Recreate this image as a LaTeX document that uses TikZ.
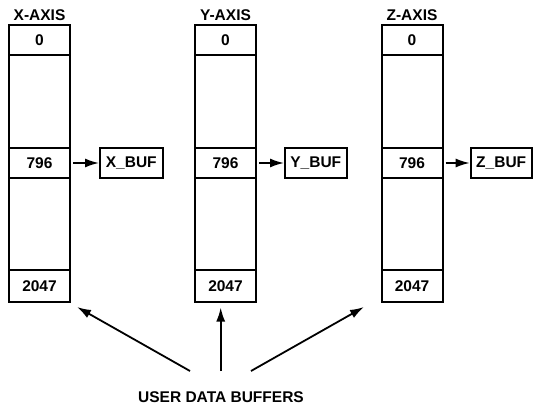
\documentclass[tikz,border=0pt]{standalone}
\usepackage{fontspec}
\setmainfont{Liberation Sans}
\usetikzlibrary{arrows.meta}
\begin{document}
\begin{tikzpicture}[x=1pt,y=-1pt,
  every node/.style={font=\fontsize{15.5}{17}\selectfont\bfseries, inner sep=0pt},
  colbox/.style={draw, line width=2pt, minimum width=61pt, minimum height=276.5pt},
  cellbox/.style={draw, line width=2pt, minimum width=61pt},
  bufbox/.style={draw, line width=2pt, minimum height=30pt},
  ptr/.style={line width=1.8pt, -{Latex[length=14pt,width=9pt]}},
  lbl/.style={}]
\useasboundingbox (0,0) rectangle (535,406);
% X column
\node[lbl] (xl) at (39.5,15) {X-AXIS};
\node[colbox] (xc) at (39.5,163.75) {};
\node[cellbox, minimum height=29.5pt] (x0) at (39.5,40.25) {0};
\node[cellbox, minimum height=30pt] (x7) at (39.5,163) {796};
\node[cellbox, minimum height=32pt] (x2) at (39.5,286) {2047};
\node[bufbox, minimum width=62.5pt] (xb) at (131.3,163) {X\_BUF};
\draw[ptr, shorten <=2pt] (x7) -- (xb);
% Y column
\node[lbl] (yl) at (225.5,15) {Y-AXIS};
\node[colbox] (yc) at (225.5,163.75) {};
\node[cellbox, minimum height=29.5pt] (y0) at (225.5,40.25) {0};
\node[cellbox, minimum height=30pt] (y7) at (225.5,163) {796};
\node[cellbox, minimum height=32pt] (y2) at (225.5,286) {2047};
\node[bufbox, minimum width=61.5pt] (yb) at (315.8,163) {Y\_BUF};
\draw[ptr, shorten <=2pt] (y7) -- (yb);
% Z column
\node[lbl] (zl) at (412,15) {Z-AXIS};
\node[colbox] (zc) at (412,163.75) {};
\node[cellbox, minimum height=29.5pt] (z0) at (412,40.25) {0};
\node[cellbox, minimum height=30pt] (z7) at (412,163) {796};
\node[cellbox, minimum height=32pt] (z2) at (412,286) {2047};
\node[bufbox, minimum width=61pt] (zb) at (501.2,163) {Z\_BUF};
\draw[ptr, shorten <=2pt] (z7) -- (zb);
% user data buffers
\node[lbl] (ub) at (221,397) {USER DATA BUFFERS};
\coordinate (t1) at (190,371);
\coordinate (t2) at (220.7,371);
\coordinate (t3) at (251,371);
\coordinate (h1) at (77,307);
\coordinate (h2) at (220.7,307.5);
\coordinate (h3) at (364,307);
\draw[ptr] (t1) -- (h1);
\draw[ptr] (t2) -- (h2);
\draw[ptr] (t3) -- (h3);
\end{tikzpicture}
\end{document}
